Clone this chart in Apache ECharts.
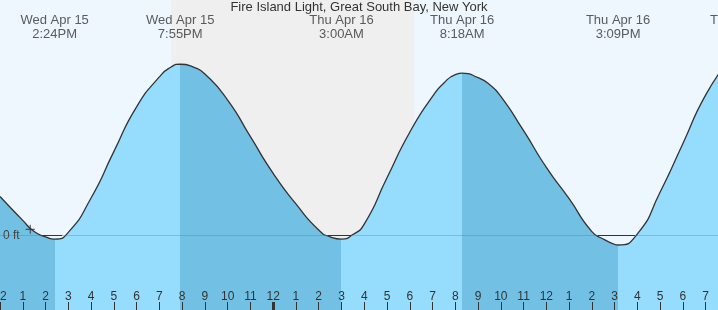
<!DOCTYPE html>
<html><head><meta charset="utf-8">
<script src="https://cdn.jsdelivr.net/npm/echarts@6/dist/echarts.min.js"></script>
<style>html,body{margin:0;padding:0;background:#eef7fe;}#c{width:718px;height:310px;}</style>
</head><body><div id="c"></div>
<script>
// ---- data ----
const titleText = 'Fire Island Light, Great South Bay, New York';
// hours counted from Wed Apr 15 00:00
const hours   = [12, 13, 13.5, 14, 14.4, 15, 16, 17, 18, 19, 19.5, 19.92, 20.5, 21, 22, 23, 24, 25, 26, 26.5, 27, 27.5, 28, 29, 30, 31, 31.5, 32, 32.3, 33, 33.5, 34, 35, 36, 37, 38, 38.5, 39, 39.15, 40, 41, 42, 43, 44];
const heights = [0.52, 0.20, 0.05, -0.02, -0.05, 0.04, 0.50, 1.12, 1.72, 2.12, 2.25, 2.29, 2.25, 2.16, 1.81, 1.32, 0.83, 0.42, 0.07, -0.02, -0.05, 0.01, 0.15, 0.77, 1.38, 1.86, 2.04, 2.15, 2.17, 2.11, 2.02, 1.86, 1.40, 0.91, 0.49, 0.05, -0.05, -0.12, -0.13, 0.02, 0.58, 1.23, 1.88, 2.33];
const eventTimes  = [14.4, 19.9167, 27, 32.3, 39.15, 44.6];
const eventTypes  = ['L', 'H', 'L', 'H', 'L', 'H'];
const eventDays   = ['Wed Apr 15', 'Wed Apr 15', 'Thu Apr 16', 'Thu Apr 16', 'Thu Apr 16', 'Thu Apr 16'];
const eventClocks = ['2:24PM', '7:55PM', '3:00AM', '8:18AM', '3:09PM', '8:36PM'];
const sunset = 19.52, sunrise = 30.2;
const midnight = 24;
const nowTime = 13.33, nowHeight = 0.08;
const axisStart = 12, axisEnd = 43.54;
const yMin = -1, yMax = 3.15;
const zeroLabel = '0 ft';

// ---- styles ----
const FONT = 'Liberation Sans, Arial, sans-serif';
const DARK = '#72c1e5', LIGHT = '#96dcfd', INK = '#333';

const tide = hours.map((h, i) => [h, heights[i]]);

// falling (high->low) segments dark, rising segments light
const pieces = [];
let prev = null;
eventTimes.forEach((t, i) => {
  const p = { color: eventTypes[i] === 'L' ? DARK : LIGHT, lt: t };
  if (prev !== null) p.gte = prev;
  pieces.push(p);
  prev = t;
});
pieces.push({ gte: prev, color: eventTypes[eventTypes.length - 1] === 'H' ? DARK : LIGHT });

// segments where the tide dips below 0 ft
const crossings = [];
for (let i = 1; i < hours.length; i++) {
  const a = heights[i - 1], b = heights[i];
  if ((a >= 0) !== (b >= 0)) crossings.push(hours[i - 1] + (0 - a) / (b - a) * (hours[i] - hours[i - 1]));
}
const dipLines = [];
for (let i = 0; i + 1 < crossings.length; i += 2) {
  dipLines.push([{ coord: [crossings[i], 0] }, { coord: [crossings[i + 1], 0] }]);
}

const chart = echarts.init(document.getElementById('c'), null, { renderer: 'canvas' });
chart.setOption({
  animation: false,
  backgroundColor: '#eef7fe',
  title: {
    text: titleText, left: 'center', top: 1, padding: 0,
    textStyle: { fontFamily: FONT, fontSize: 13, fontWeight: 'normal', color: INK }
  },
  grid: { left: 0, right: 0, top: 0, bottom: 0, containLabel: false, outerBoundsMode: 'none' },
  xAxis: [{
    type: 'value', min: axisStart, max: axisEnd, interval: 1, position: 'bottom', z: 10,
    axisLine: { show: false, onZero: false }, splitLine: { show: false },
    axisTick: { show: true, inside: true, length: 8, lineStyle: { color: INK, width: 1 } },
    axisLabel: {
      show: true, inside: true, margin: 7, fontFamily: FONT, fontSize: 12, color: INK,
      showMinLabel: true, showMaxLabel: false, hideOverlap: false,
      formatter: v => { const h = Math.round(v) % 12; return h === 0 ? '12' : String(h); }
    }
  }, {
    type: 'value', min: axisStart, max: axisEnd, position: 'bottom', z: 10,
    axisLine: { show: false, onZero: false }, splitLine: { show: false }, axisLabel: { show: false },
    axisTick: { show: true, inside: true, length: 8, customValues: [midnight], lineStyle: { color: INK, width: 3 } }
  }],
  yAxis: {
    type: 'value', min: yMin, max: yMax, position: 'left', z: 10,
    axisLine: { show: false, onZero: false }, splitLine: { show: false }, axisTick: { show: false },
    axisLabel: { show: true, inside: true, margin: 3, customValues: [0], fontFamily: FONT, fontSize: 12, color: '#444',
      formatter: () => zeroLabel }
  },
  visualMap: {
    type: 'piecewise', show: false, dimension: 0, seriesIndex: 0, pieces: pieces
  },
  series: [
    {
      type: 'line', data: tide, smooth: 0.6, symbol: 'none', z: 2,
      lineStyle: { width: 0 },
      areaStyle: { origin: 'start', opacity: 1 },
      markArea: {
        silent: true,
        itemStyle: { color: '#efefef' },
        data: [[{ xAxis: sunset }, { xAxis: sunrise }]]
      },
      markLine: {
        silent: true, symbol: 'none', label: { show: false },
        lineStyle: { color: 'rgba(40,120,170,0.3)', width: 1, type: 'solid' },
        data: [{ yAxis: 0 }]
      }
    },
    {
      type: 'line', data: tide, smooth: 0.6, symbol: 'none', z: 4,
      lineStyle: { color: INK, width: 1.3 },
      markLine: {
        silent: true, symbol: 'none', label: { show: false },
        lineStyle: { color: INK, width: 1, type: 'solid' },
        data: dipLines
      }
    },
    {
      type: 'scatter', data: [[nowTime, nowHeight]], z: 6, silent: true,
      symbol: 'path://M0,3.5L8,3.5L8,4.5L0,4.5ZM3.5,0L4.5,0L4.5,8L3.5,8Z',
      symbolSize: 9, itemStyle: { color: INK }
    },
    {
      type: 'scatter', data: eventTimes.map(t => [t, yMax]), clip: false, silent: true, z: 10,
      symbolSize: 1, itemStyle: { color: 'rgba(0,0,0,0)' },
      label: {
        show: true, position: 'bottom', distance: 13,
        formatter: p => eventDays[p.dataIndex] + '\n' + eventClocks[p.dataIndex],
        fontFamily: FONT, fontSize: 13, lineHeight: 14, color: INK, align: 'center'
      }
    }
  ]
});
</script>
</body></html>
